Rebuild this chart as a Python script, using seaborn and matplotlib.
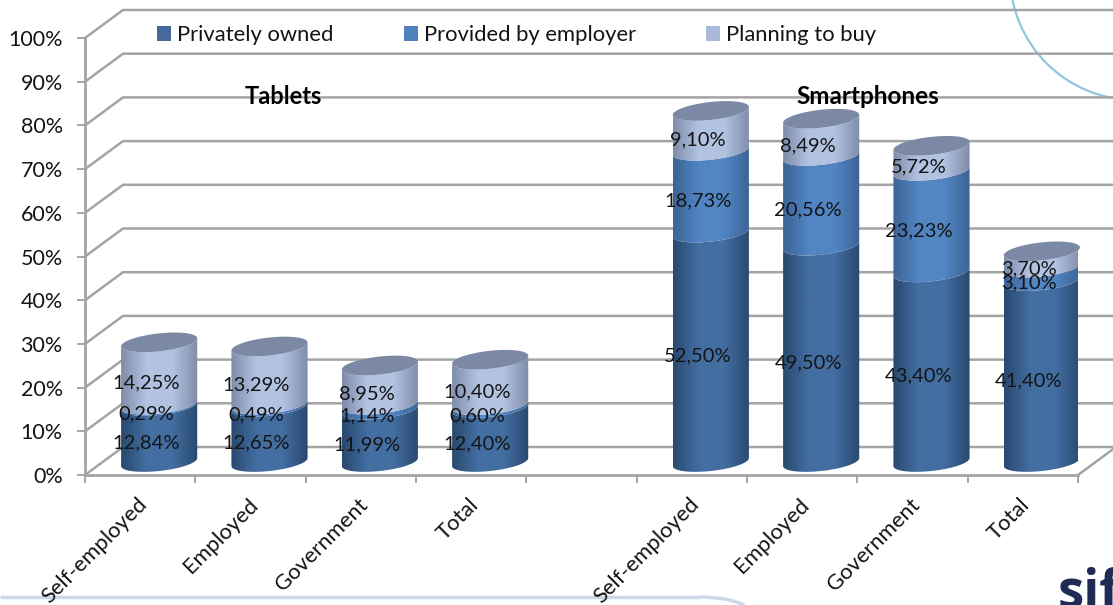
import numpy as np
import pandas as pd
import seaborn as sns
import matplotlib
matplotlib.use("Agg")
import matplotlib.pyplot as plt
from matplotlib.patches import Patch, Polygon, Ellipse, Arc
from matplotlib.ticker import PercentFormatter

# Survey shares in percent, one entry per column
groups = ["Tablets", "Smartphones"]
categories = ["Self-employed", "Employed", "Government", "Total"] * 2
slots = [0.5, 1.5, 2.5, 3.5, 5.5, 6.5, 7.5, 8.5]
privately_owned = [12.84, 12.65, 11.99, 12.40, 52.50, 49.50, 43.40, 41.40]
provided_by_employer = [0.29, 0.49, 1.14, 0.60, 18.73, 20.56, 23.23, 3.10]
planning_to_buy = [14.25, 13.29, 8.95, 10.40, 9.10, 8.49, 5.72, 3.70]
series_names = ["Privately owned", "Provided by employer", "Planning to buy"]
series_values = [privately_owned, provided_by_employer, planning_to_buy]
y_ticks = list(range(0, 101, 10))

# Shaded fill of each layer: edge colour and centre colour
layer_shades = [("#2A4970", "#436EA1"),
                ("#3C6497", "#5185C3"),
                ("#7F8DAA", "#B2C3E2")]
legend_colors = ["#44699A", "#4F81BD", "#AAB9D9"]
lid_color = "#7B89A4"
wall_color = "#A4A4A4"
text_color = "#141414"

sns.set_theme(style="white")
plt.rcParams["font.family"] = ["Lato", "DejaVu Sans"]

W, H = 1113, 605
fig = plt.figure(figsize=(W / 100, H / 100), dpi=100, facecolor="white")

# Slide furniture behind the chart
deco = fig.add_axes([0, 0, 1, 1], zorder=0)
deco.set_xlim(0, W)
deco.set_ylim(H, 0)
deco.axis("off")
deco.add_patch(Ellipse((1135, -25), 250, 250, fill=False, ec="#8FC6DE", lw=1.6))
deco.plot([0, 700], [597, 597], color="#CBD8EA", lw=2.5, solid_capstyle="butt")
deco.add_patch(Arc((700, 621), 120, 48, theta1=-90, theta2=-20, color="#CBD8EA", lw=2.5))
deco.text(1058, 607, "sif", fontsize=38, fontweight="bold", color="#1F2A55",
          family="Open Sans", clip_on=True)

# Front plane of the 3-D box
x0, x1 = 85, 1078
y0, y1 = 475, 38
ax = fig.add_axes([x0 / W, 1 - y0 / H, (x1 - x0) / W, (y0 - y1) / H], zorder=1)
ax.patch.set_alpha(0)

# Stacked bars give each layer's geometry on the axes' own scales
cum = np.zeros(len(slots))
layers = []
for name, values in zip(series_names, series_values):
    lower = cum.copy()
    cum = cum + np.array(values)
    n_before = len(ax.patches)
    frame = pd.DataFrame({"slot": slots, "top": cum})
    sns.barplot(data=frame, x="slot", y="top", native_scale=True, width=0.69,
                errorbar=None, color="white", ax=ax)
    new = ax.patches[n_before:]
    for p in new:
        p.set_visible(False)
    layers.append((list(new), lower))

ax.set_xlim(0, 9)
ax.set_ylim(0, 100)
px_x = (x1 - x0) / 9
px_y = (y0 - y1) / 100
ax.set_xlabel("")
ax.set_ylabel("")

# Walls of the box
depth_x, depth_y = 38 / px_x, 28 / px_y
for v in y_ticks:
    ax.plot([0, depth_x, 9 + depth_x + 1], [v, v + depth_y, v + depth_y],
            color=wall_color, lw=1.8, clip_on=False, zorder=1)
ax.plot([9, 9 + depth_x], [0, depth_y], color=wall_color, lw=1.8, clip_on=False, zorder=1)

# Cylinders sit half way into the box
shift_x, shift_y = 19 / px_x, 13 / px_y
tilt = 4 / px_y
minor_axis = 9 / px_y


def rim(cx, cy, half_w, t):
    return cx + half_w * np.cos(t), cy + minor_axis * np.sin(t) + tilt * np.cos(t)


front = np.linspace(np.pi, 2 * np.pi, 60)
for (patches, lower), (edge, centre) in zip(layers, layer_shades):
    shade = sns.blend_palette([edge, centre, centre, edge], n_colors=96)
    strip = np.array(shade)[None, :, :]
    for p, low in zip(patches, lower):
        cx = p.get_x() + p.get_width() / 2 + shift_x
        half_w = p.get_width() / 2
        top = p.get_height() + shift_y
        bottom = low + shift_y
        xa, ya = rim(cx, bottom, half_w, front)
        xb, yb = rim(cx, top, half_w, front[::-1])
        outline = Polygon(np.c_[np.r_[xa, xb], np.r_[ya, yb]], closed=True,
                          transform=ax.transData, fc="none", ec="none")
        ax.add_patch(outline)
        outline.set_clip_on(False)
        img = ax.imshow(strip, extent=(cx - half_w, cx + half_w, bottom - 10, top + 10),
                        aspect="auto", zorder=2, interpolation="bilinear")
        img.set_clip_path(outline)

# Lids on the stacks
every = np.linspace(0, 2 * np.pi, 120)
for p in layers[-1][0]:
    cx = p.get_x() + p.get_width() / 2 + shift_x
    xs, ys = rim(cx, p.get_height() + shift_y, p.get_width() / 2, every)
    ax.fill(xs, ys, color=lid_color, zorder=3, lw=0, clip_on=False)

ax.set_xlim(0, 9)
ax.set_ylim(0, 100)

# Value labels in the middle of each layer
cum = np.zeros(len(slots))
for values in series_values:
    for s, base, v in zip(slots, cum, values):
        ax.text(s + 6 / px_x, base + v / 2 + 4 / px_y, f"{v:.2f}%".replace(".", ","),
                ha="center", va="center", fontsize=14.5, color=text_color, zorder=5)
    cum = cum + np.array(values)

# Axes, ticks and labels
for side in ("left", "bottom"):
    ax.spines[side].set_color(wall_color)
    ax.spines[side].set_linewidth(2)
sns.despine(ax=ax)
ax.set_yticks(y_ticks)
ax.yaxis.set_major_formatter(PercentFormatter(decimals=0))
ax.tick_params(axis="y", left=True, length=6, width=1.4, color=wall_color, pad=10,
               labelsize=15.5, labelcolor=text_color)
ax.set_xticks(range(10))
ax.set_xticklabels([])
ax.tick_params(axis="x", which="major", bottom=True, length=6, width=1.4, color=wall_color)
ax.set_xticks(slots, minor=True)
ax.set_xticklabels(categories, minor=True, rotation=45, ha="right", va="top",
                   rotation_mode="anchor", fontsize=15.8, color=text_color)
ax.tick_params(axis="x", which="minor", bottom=False, length=0, pad=14)
offset = matplotlib.transforms.ScaledTranslation(-3 / 100, 0, fig.dpi_scale_trans)
for lab in ax.get_xticklabels(minor=True):
    lab.set_transform(lab.get_transform() + offset)

# Panel headings
ax.text((283 - x0) / px_x, (y0 - 96) / px_y, groups[0], ha="center", va="center",
        fontsize=17, fontweight="bold", color="black", zorder=5)
ax.text((868 - x0) / px_x, (y0 - 96) / px_y, groups[1], ha="center", va="center",
        fontsize=17.5, fontweight="bold", color="black", zorder=5)

handles = [Patch(fc=c, ec="none") for c in legend_colors]
ax.legend(handles, series_names, ncol=3, frameon=False, fontsize=15.8,
          labelcolor=text_color, loc="center left",
          bbox_to_anchor=((157 - x0) / (x1 - x0), (y0 - 35) / (y0 - y1)),
          borderaxespad=0, borderpad=0, handlelength=0.64, handleheight=0.64,
          handletextpad=0.27, columnspacing=3.2)

fig.savefig("out.png", dpi=100)
